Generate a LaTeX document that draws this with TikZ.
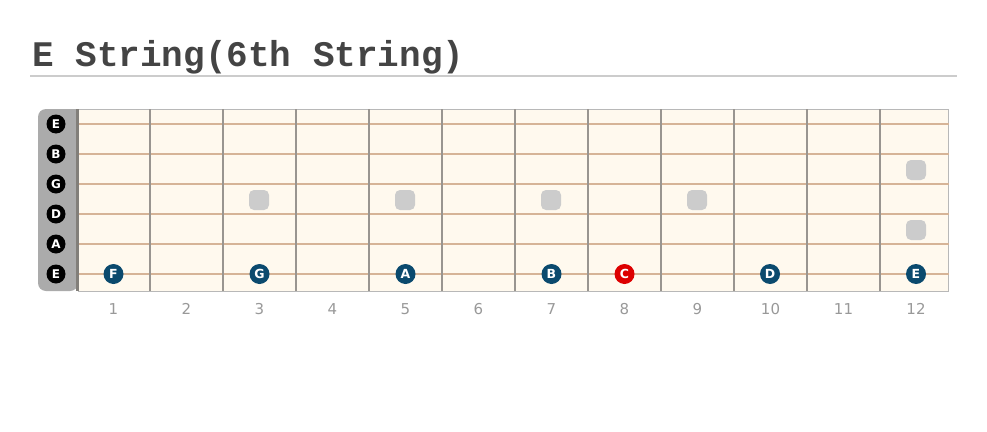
\documentclass[tikz,border=0pt]{standalone}
\usepackage{fontspec}
\setmainfont{DejaVu Sans}
\newfontfamily\titlefont{Liberation Mono}
\definecolor{board}{HTML}{FFF9EE}
\definecolor{strcol}{HTML}{D6B497}
\definecolor{fretcol}{HTML}{999590}
\definecolor{notecol}{HTML}{0B4A6E}
\definecolor{rootcol}{HTML}{DD0000}
\definecolor{nutcol}{HTML}{ABABAB}
\definecolor{inlay}{HTML}{CCCCCC}
\definecolor{titlecol}{HTML}{444444}
\definecolor{numcol}{HTML}{999999}
\tikzset{
  notedot/.style={circle, fill=notecol, minimum size=20pt, inner sep=0pt, text=white, font=\bfseries\fontsize{12.5}{13}\selectfont},
  rootdot/.style={notedot, fill=rootcol},
  opendot/.style={circle, fill=black, minimum size=19pt, inner sep=0pt, text=white, font=\bfseries\fontsize{12}{13}\selectfont},
  inlaydot/.style={rounded corners=5pt, fill=inlay, minimum size=20pt, inner sep=0pt, draw=none, rectangle},
  fretnum/.style={text=numcol, anchor=base, inner sep=0pt, font=\fontsize{15}{16}\selectfont},
}
\begin{document}
\begin{tikzpicture}[x=1pt,y=-1pt]
\useasboundingbox (0,0) rectangle (987,431);
\fill[white] (0,0) rectangle (987,431);
% title
\node[anchor=base west, inner sep=0pt, text=titlecol, font=\titlefont\bfseries\fontsize{36}{36}\selectfont] (title) at (32,66) {E String(6th String)};
\draw[line width=2pt, inlay] (30,75.5) -- (957,75.5);
% nut
\fill[nutcol, rounded corners=8pt] (78,109) -- (38,109) -- (38,291) -- (78,291) [sharp corners] -- cycle;
% board
\fill[board] (78,109) rectangle (948.5,291);
\draw[line width=0.8pt, color=inlay!90!black] (78,109) -- (948.5,109) -- (948.5,291) -- (78,291);
% strings
\foreach \y in {124,154,184,214,244,274} \draw[strcol, line width=1.5pt] (77,\y) -- (948.5,\y);
% frets
\foreach \x in {150,223,296,369,442,515,588,661,734,807,880} \draw[fretcol, line width=2.6pt] (\x,109) -- (\x,291);
\draw[fretcol!85!black, line width=2.6pt] (77.5,109) -- (77.5,291);
% inlays
\foreach \x/\y/\n in {259/200/a,405/200/b,551/200/c,697/200/d,916/170/e,916/230/f} \node[inlaydot] (in\n) at (\x,\y) {};
% open strings
\node[opendot] (o1) at (56,124) {E};
\node[opendot] (o2) at (56,154) {B};
\node[opendot] (o3) at (56,184) {G};
\node[opendot] (o4) at (56,214) {D};
\node[opendot] (o5) at (56,244) {A};
\node[opendot] (o6) at (56,274) {E};
% notes
\node[notedot] (nF) at (113.5,274) {F};
\node[notedot] (nG) at (259.5,274) {G};
\node[notedot] (nA) at (405.5,274) {A};
\node[notedot] (nB) at (551.5,274) {B};
\node[rootdot] (nC) at (624.5,274) {C};
\node[notedot] (nD) at (770,274) {D};
\node[notedot] (nE) at (916,274) {E};
% fret numbers
\foreach \i/\x in {1/113.5,2/186.5,3/259.5,4/332.5,5/405.5,6/478.5,7/551.5,8/624.5,9/697.5,10/770.5,11/843.5,12/916} \node[fretnum] (f\i) at (\x,314) {\i};
\end{tikzpicture}
\end{document}
